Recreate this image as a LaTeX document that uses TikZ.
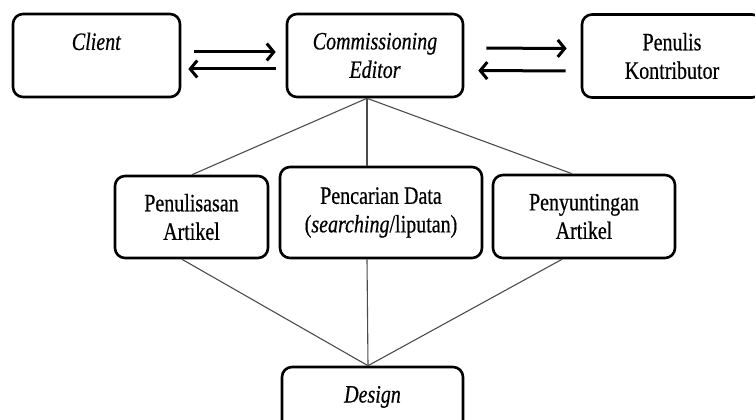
\documentclass[tikz,border=0pt]{standalone}
\usepackage{fontspec}
\setmainfont{Liberation Serif}[FakeStretch=0.8, FakeBold=0.5]
\usetikzlibrary{arrows.meta}

\begin{document}
\begin{tikzpicture}[x=1pt, y=-1pt,
    box/.style={draw, line width=2.6pt, rounded corners=10pt, align=center, inner sep=0pt,
        font=\fontsize{25}{28.5}\selectfont},
    link/.style={draw=black!70, line width=1.1pt},
    flow/.style={line width=3pt, -{Straight Barb[length=7pt,width=17pt]}}]
    \useasboundingbox (0,0) rectangle (755,420);
    \clip (0,0) rectangle (755,420);
    % top row
    \node[box, minimum width=167pt, minimum height=83pt] (client) at (96.5,55.5) {\textit{Client}\\\mbox{}};
    \node[box, minimum width=176pt, minimum height=83pt] (editor) at (375,55.5) {\textit{Commissioning}\\\textit{Editor}};
    \node[box, minimum width=180pt, minimum height=83pt] (kontributor) at (672,56) {Penulis\\Kontributor};
    % middle row
    \node[box, minimum width=153pt, minimum height=82pt] (tulis) at (191.5,217) {Penulisasan\\Artikel};
    \node[box, minimum width=202pt, minimum height=91pt] (cari) at (381,212.5) {Pencarian Data\\(\textit{searching}/liputan)};
    \node[box, minimum width=182pt, minimum height=83pt] (sunting) at (584,216.5) {Penyuntingan\\Artikel};
    % bottom
    \node[box, minimum width=181pt, minimum height=83pt] (design) at (372.5,408.5) {\textit{Design}\\\mbox{}};
    % arrows
    \draw[flow, shorten <=13pt, shorten >=10pt] ([yshift=3.5pt]client.east) -- ([yshift=3.5pt]editor.west);
    \draw[flow, shorten <=10pt, shorten >=7pt] ([yshift=-13.5pt]editor.west) -- ([yshift=-13.5pt]client.east);
    \draw[flow, shorten <=22pt, shorten >=14pt] ([yshift=7.5pt]editor.east) -- ([yshift=7.5pt]kontributor.west);
    \draw[flow, shorten <=15pt, shorten >=14pt] ([yshift=-15pt]kontributor.west) -- ([yshift=-15pt]editor.east);
    % links
    \draw[link] ([xshift=-8pt]editor.south) -- ([xshift=0.5pt]tulis.north);
    \draw[link] ([xshift=-8pt]editor.south) -- ([xshift=-14pt]cari.north);
    \draw[link] ([xshift=-8pt]editor.south) -- ([xshift=-12pt]sunting.north);
    \draw[link] ([xshift=-9.5pt]tulis.south) -- ([xshift=-4.5pt]design.north);
    \draw[link] ([xshift=-14pt]cari.south) -- ([xshift=-4.5pt]design.north);
    \draw[link] ([xshift=-22pt]sunting.south) -- ([xshift=-4.5pt]design.north);
\end{tikzpicture}
\end{document}
